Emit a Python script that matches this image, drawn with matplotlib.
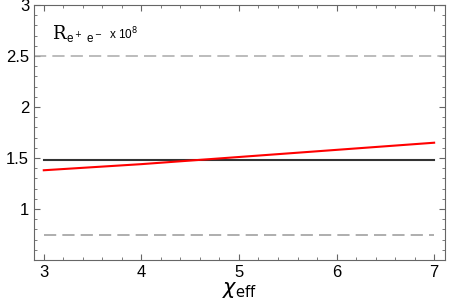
import numpy as np
import matplotlib.pyplot as plt
from matplotlib.ticker import MultipleLocator

plt.rcParams['font.family'] = ['Liberation Sans', 'DejaVu Sans']

# values
chi = [3, 4, 5, 6, 7]
ratio_red = [1.38, 1.44, 1.51, 1.58, 1.65]
ratio_black = [1.48, 1.48, 1.48, 1.48, 1.48]
upper_limit = 2.5
lower_limit = 0.75

fig = plt.figure(figsize=(4.5, 3.05), dpi=100)
ax = fig.add_axes([0.0756, 0.1475, 0.913, 0.836])

ax.plot(chi, ratio_black, color='#333333', lw=1.5)
ax.plot(chi, ratio_red, color='red', lw=1.5)
ax.axhline(upper_limit, color='#aaaaaa', lw=1.1, ls=(0, (8, 4)))
ax.plot([chi[0], chi[-1]], [lower_limit] * 2, color='#999999', lw=1.1, ls=(0, (8, 4)))

ax.set_xlim(2.9, 7.11)
ax.set_ylim(0.5, 3)
ax.set_xticks([3, 4, 5, 6, 7])
ax.set_yticks([1, 1.5, 2, 2.5, 3])
ax.set_yticklabels(['1', '1.5', '2', '2.5', '3'])
ax.xaxis.set_minor_locator(MultipleLocator(0.2))
ax.yaxis.set_minor_locator(MultipleLocator(0.1))
ax.tick_params(which='both', direction='in', top=True, right=True,
               color='#666666', labelsize=12)
ax.tick_params(which='major', length=4)
ax.tick_params(which='minor', length=2)
for s in ax.spines.values():
    s.set_color('#666666')

ax.set_xlabel(r'$\chi_{\mathrm{eff}}$', fontsize=15, labelpad=0)

ax.text(0.044, 0.867, 'R', transform=ax.transAxes, fontsize=13,
        family='DejaVu Serif', va='baseline')
ax.text(0.078, 0.847, r'e$^+$ e$^-$', transform=ax.transAxes, fontsize=8.5,
        va='baseline')
ax.text(0.183, 0.867, r'x 10$^8$', transform=ax.transAxes, fontsize=8.5,
        va='baseline')

fig.savefig('out.png', dpi=100)
